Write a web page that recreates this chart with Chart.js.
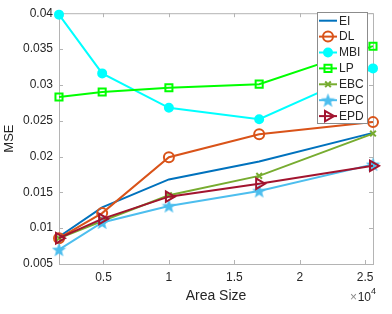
<!DOCTYPE html>
<html>
<head>
<meta charset="utf-8">
<script src="https://cdn.jsdelivr.net/npm/chart.js@4"></script>
<style>
  html, body { margin: 0; padding: 0; background: #fff; }
  #wrap { width: 392px; height: 314px; }
</style>
</head>
<body>
<div id="wrap"><canvas id="mseChart" width="392" height="314"></canvas></div>
<script>
// area sizes (x) and MSE per method
const areaSize = [1600, 4900, 10000, 16900, 25600];
const seriesEI  = [0.0088, 0.0129, 0.0168, 0.0193, 0.0233];
const seriesDL  = [0.0086, 0.0121, 0.0199, 0.0231, 0.0248];
const seriesMBI = [0.0398, 0.0316, 0.0268, 0.0252, 0.0323];
const seriesLP  = [0.0283, 0.0290, 0.0296, 0.0301, 0.0354];
const seriesEBC = [0.0086, 0.0110, 0.0146, 0.0173, 0.0232];
const seriesEPC = [0.0070, 0.0108, 0.0131, 0.0152, 0.0189];
const seriesEPD = [0.0086, 0.0113, 0.0144, 0.0162, 0.0187];
const methodNames = ['EI', 'DL', 'MBI', 'LP', 'EBC', 'EPC', 'EPD'];
const xTicks = [5000, 10000, 15000, 20000, 25000];
const yTicks = [0.005, 0.01, 0.015, 0.02, 0.025, 0.03, 0.035, 0.04];

const FONT = 'Liberation Sans, Arial, sans-serif';
const AXIS_COLOR = '#b4b4b4';
const TEXT_COLOR = '#262626';

// filled pentagram marker (matlab 'p')
function makeStar(color, size) {
    const c = document.createElement('canvas');
    c.width = size; c.height = size;
    const g = c.getContext('2d');
    const cx = size / 2, cy = size / 2 + 0.6, ro = size / 2, ri = ro * 0.42;
    g.beginPath();
    for (let i = 0; i < 10; i++) {
        const r = i % 2 === 0 ? ro : ri;
        const a = -Math.PI / 2 + i * Math.PI / 5;
        g.lineTo(cx + r * Math.cos(a), cy + r * Math.sin(a));
    }
    g.closePath();
    g.fillStyle = color;
    g.fill();
    return c;
}

function pts(ys) {
    return areaSize.map((x, i) => ({ x: x, y: ys[i] }));
}

const styles = [
    { color: '#0072BD', pointStyle: 'circle', radius: 0, fill: 'transparent', rotation: 0 },
    { color: '#D95319', pointStyle: 'circle', radius: 5, fill: 'transparent', rotation: 0 },
    { color: '#00FFFF', pointStyle: 'circle', radius: 4, fill: '#00FFFF', rotation: 0 },
    { color: '#00FF00', pointStyle: 'rect', radius: 5, fill: 'transparent', rotation: 0 },
    { color: '#77AC30', pointStyle: 'crossRot', radius: 4, fill: 'transparent', rotation: 0 },
    { color: '#4DBEEE', pointStyle: makeStar('#4DBEEE', 15), radius: 7, fill: '#4DBEEE', rotation: 0 },
    { color: '#A2142F', pointStyle: 'triangle', radius: 6, fill: 'transparent', rotation: 90 }
];
const allSeries = [seriesEI, seriesDL, seriesMBI, seriesLP, seriesEBC, seriesEPC, seriesEPD];

const datasets = allSeries.map((s, i) => ({
    label: methodNames[i],
    data: pts(s),
    borderColor: styles[i].color,
    backgroundColor: styles[i].fill,
    borderWidth: 2,
    pointStyle: styles[i].pointStyle,
    pointRadius: styles[i].radius,
    pointRotation: styles[i].rotation,
    pointBorderWidth: 2,
    pointBorderColor: styles[i].color,
    pointBackgroundColor: styles[i].fill,
    tension: 0,
    clip: false,
    order: allSeries.length - i
}));

// matlab-like box with inward ticks, x10^4 label and legend
const matlabAxes = {
    id: 'matlabAxes',
    beforeDatasetsDraw(chart) {
        const { ctx, chartArea: a, scales } = chart;
        ctx.save();
        ctx.strokeStyle = AXIS_COLOR;
        ctx.lineWidth = 1;
        ctx.strokeRect(a.left + 0.5, a.top + 0.5, a.right - a.left, a.bottom - a.top);
        const t = 4;
        ctx.beginPath();
        xTicks.forEach(v => {
            const x = Math.round(scales.x.getPixelForValue(v)) + 0.5;
            ctx.moveTo(x, a.bottom); ctx.lineTo(x, a.bottom - t);
            ctx.moveTo(x, a.top); ctx.lineTo(x, a.top + t);
        });
        yTicks.forEach(v => {
            const y = Math.round(scales.y.getPixelForValue(v)) + 0.5;
            ctx.moveTo(a.left, y); ctx.lineTo(a.left + t, y);
            ctx.moveTo(a.right, y); ctx.lineTo(a.right - t, y);
        });
        ctx.stroke();
        ctx.restore();
    },
    afterDraw(chart) {
        const { ctx, chartArea: a } = chart;
        ctx.save();
        // exponent label
        ctx.textBaseline = 'alphabetic';
        ctx.textAlign = 'right';
        ctx.fillStyle = TEXT_COLOR;
        ctx.font = '9px ' + FONT;
        ctx.fillText('4', a.right + 3, 294);
        ctx.font = '12px ' + FONT;
        ctx.fillText('10', a.right - 2, 301);
        ctx.fillStyle = '#8a8a8a';
        ctx.fillText('\u00d7', a.right - 16, 301);

        // legend box
        const lx = 317, ly = 12, lw = 50, lh = 111;
        ctx.fillStyle = '#fff';
        ctx.fillRect(lx, ly, lw, lh);
        ctx.strokeStyle = '#8c8c8c';
        ctx.lineWidth = 1;
        ctx.strokeRect(lx + 0.5, ly + 0.5, lw, lh);
        methodNames.forEach((name, i) => {
            const y = 20.7 + i * 15.9;
            const st = styles[i];
            ctx.strokeStyle = st.color;
            ctx.lineWidth = 2;
            ctx.beginPath();
            ctx.moveTo(319, y); ctx.lineTo(337, y);
            ctx.stroke();
            if (st.radius > 0) {
                ctx.fillStyle = st.fill;
                Chart.helpers.drawPoint(ctx, {
                    pointStyle: st.pointStyle, radius: st.radius,
                    rotation: st.rotation, borderWidth: 2
                }, 328, y);
            }
            ctx.fillStyle = TEXT_COLOR;
            ctx.textAlign = 'left';
            ctx.textBaseline = 'middle';
            ctx.font = '12px ' + FONT;
            ctx.fillText(name, 339, y + 0.5);
        });
        ctx.restore();
    }
};

new Chart(document.getElementById('mseChart'), {
    type: 'line',
    data: { datasets: datasets },
    plugins: [matlabAxes],
    options: {
        responsive: false,
        animation: false,
        layout: { padding: { top: 7, right: 19, left: 0, bottom: 0 } },
        plugins: { legend: { display: false }, tooltip: { enabled: false } },
        scales: {
            x: {
                type: 'linear',
                min: 1600,
                max: 25600,
                afterBuildTicks: (scale) => { scale.ticks = xTicks.map(v => ({ value: v })); },
                afterFit: (scale) => { scale.height = 50; },
                grid: { display: false, drawTicks: false },
                border: { display: false },
                ticks: {
                    padding: 6,
                    color: TEXT_COLOR,
                    font: { family: FONT, size: 12 },
                    maxRotation: 0,
                    callback: (v) => String(v / 10000)
                },
                title: {
                    display: true,
                    text: 'Area Size',
                    color: TEXT_COLOR,
                    font: { family: FONT, size: 14 },
                    padding: { top: 0, bottom: 9 }
                }
            },
            y: {
                min: 0.005,
                max: 0.04,
                afterBuildTicks: (scale) => { scale.ticks = yTicks.map(v => ({ value: v })); },
                afterFit: (scale) => { scale.width = 59; },
                grid: { display: false, drawTicks: false },
                border: { display: false },
                ticks: {
                    padding: 6,
                    color: TEXT_COLOR,
                    font: { family: FONT, size: 12 },
                    callback: (v) => String(+v.toFixed(3))
                },
                title: {
                    display: true,
                    text: 'MSE',
                    color: TEXT_COLOR,
                    font: { family: FONT, size: 13 },
                    padding: { top: 2, bottom: 0 }
                }
            }
        }
    }
});
</script>
</body>
</html>
